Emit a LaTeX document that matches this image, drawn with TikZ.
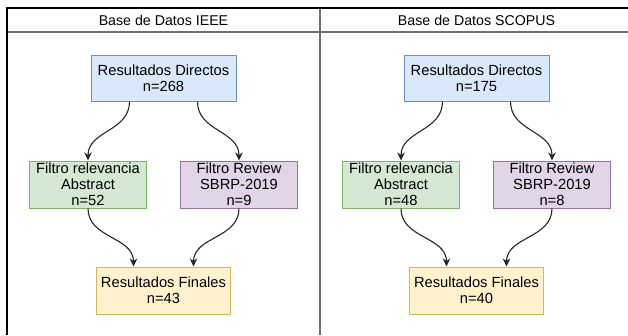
\documentclass[tikz,border=0pt]{standalone}
\usepackage{fontspec}
\setmainfont{Liberation Sans}
\usetikzlibrary{arrows.meta}
\definecolor{dirfl}{HTML}{DAE8FC}
\definecolor{dirln}{HTML}{6C8EBF}
\definecolor{relfl}{HTML}{D5E8D4}
\definecolor{relln}{HTML}{82B366}
\definecolor{revfl}{HTML}{E1D5E7}
\definecolor{revln}{HTML}{9673A6}
\definecolor{finfl}{HTML}{FFF2CC}
\definecolor{finln}{HTML}{D6B656}
\definecolor{lane}{HTML}{707070}
\tikzset{
  blk/.style={draw=#1ln,fill=#1fl,line width=1pt,inner sep=0pt,minimum height=46pt,
              align=center,font=\fontsize{14.7}{16}\selectfont},
  ttl/.style={font=\fontsize{14.2}{16}\selectfont},
  ar/.style={-{Stealth[length=8pt,width=7.5pt,inset=2.5pt]},draw=black!85,line width=1.1pt},
  frame/.style={draw=black,line width=1.6pt},
  sep/.style={draw=lane,line width=1.8pt},
}
% one lane: prefix, centre x, title, then the four counts
\newcommand{\dbpanel}[7]{%
  \node[ttl] (#1t) at (#2,20) {Base de Datos #3};
  \node[blk=dir,minimum width=145pt] (#1d) at (#2,78) {Resultados Directos\\n=#4};
  \node[blk=rel,minimum width=117pt,minimum height=47pt] (#1r) at ({#2-75.5},184.5)
    {Filtro relevancia\\Abstract\\n=#5};
  \node[blk=rev,minimum width=117pt,minimum height=47pt] (#1v) at ({#2+75.5},184.5)
    {Filtro Review\\SBRP-2019\\n=#6};
  \node[blk=fin,minimum width=134pt,minimum height=47pt] (#1f) at (#2,290.5)
    {Resultados Finales\\n=#7};
  \draw[ar] ([xshift=-34pt]#1d.south) .. controls +(0,30) and +(0,-30) .. (#1r.north);
  \draw[ar] ([xshift=34pt]#1d.south) .. controls +(0,30) and +(0,-30) .. (#1v.north);
  \draw[ar] (#1r.south) .. controls +(0,30) and +(0,-30) .. ([xshift=-30pt]#1f.north);
  \draw[ar] (#1v.south) .. controls +(0,30) and +(0,-30) .. ([xshift=30pt]#1f.north);}

\begin{document}
\begin{tikzpicture}[x=1pt,y=-1pt]
  \path[fill=white,use as bounding box] (0,0) rectangle (628,335);
  \draw[sep] (7,32) -- (628,32);
  \draw[sep] (320,8) -- (320,335);
  \draw[frame] (7,335) -- (7,8) -- (628,8);
  \dbpanel{a}{163.5}{IEEE}{268}{52}{9}{43}
  \dbpanel{b}{476.5}{SCOPUS}{175}{48}{8}{40}
\end{tikzpicture}
\end{document}
